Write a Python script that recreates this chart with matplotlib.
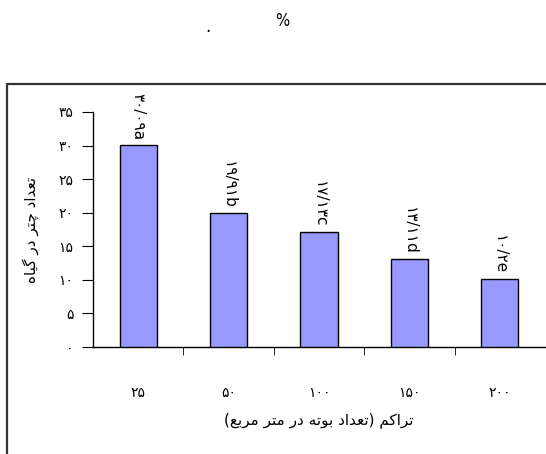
import matplotlib
matplotlib.use("Agg")
import matplotlib.pyplot as plt
from matplotlib.patches import Rectangle

plt.rcParams['font.family'] = ['DejaVu Sans']

# ---- data ----
categories = ["۲۵", "۵۰", "۱۰۰", "۱۵۰", "۲۰۰"]
values = [30.09, 19.91, 17.13, 13.11, 10.2]
value_labels = ["۳۰/۰۹a", "۱۹/۹۱b", "۱۷/۱۳c", "۱۳/۱۱d", "۱۰/۲e"]
yticks = [0, 5, 10, 15, 20, 25, 30, 35]
ytick_labels = ["۰", "۵", "۱۰", "۱۵", "۲۰", "۲۵", "۳۰", "۳۵"]
ylabel = "تعداد چتر در گیاه"
xlabel = "تراکم (تعداد بوته در متر مربع)"

# ---- minimal Persian shaping (presentation forms) ----
FORMS = {  # iso, fin, ini, med ; None ini/med => right-joining only
    'ت': ('\uFE95', '\uFE96', '\uFE97', '\uFE98'),
    'ع': ('\uFEC9', '\uFECA', '\uFECB', '\uFECC'),
    'د': ('\uFEA9', '\uFEAA', None, None),
    'ا': ('\uFE8D', '\uFE8E', None, None),
    'چ': ('\uFB7A', '\uFB7B', '\uFB7C', '\uFB7D'),
    'ر': ('\uFEAD', '\uFEAE', None, None),
    'گ': ('\uFB92', '\uFB93', '\uFB94', '\uFB95'),
    'ی': ('\uFBFC', '\uFBFD', '\uFBFE', '\uFBFF'),
    'ه': ('\uFEE9', '\uFEEA', '\uFEEB', '\uFEEC'),
    'ک': ('\uFB8E', '\uFB8F', '\uFB90', '\uFB91'),
    'م': ('\uFEE1', '\uFEE2', '\uFEE3', '\uFEE4'),
    'ب': ('\uFE8F', '\uFE90', '\uFE91', '\uFE92'),
    'و': ('\uFEED', '\uFEEE', None, None),
}

def shape(s):
    out = []
    n = len(s)
    for i, ch in enumerate(s):
        if ch not in FORMS:
            out.append(ch)
            continue
        f = FORMS[ch]
        prev = s[i - 1] if i > 0 else None
        nxt = s[i + 1] if i < n - 1 else None
        pj = prev in FORMS and FORMS[prev][2] is not None
        nj = nxt in FORMS and f[2] is not None
        if pj and nj:
            out.append(f[3])
        elif pj:
            out.append(f[1])
        elif nj:
            out.append(f[2])
        else:
            out.append(f[0])
    vis = ''.join(reversed(out))
    vis = vis.translate(str.maketrans({'(': ')', ')': '('}))
    return vis

W, H = 546, 454
fig = plt.figure(figsize=(W / 100, H / 100), dpi=100)
ax = fig.add_axes([93 / W, 1 - 347 / H, (545 - 93) / W, (347 - 112) / H])

x = list(range(len(categories)))
ax.bar(x, values, width=0.41, color='#9999FF', edgecolor='black', linewidth=1.0, zorder=3)
ax.set_xlim(-0.5, len(categories) - 0.5)
ax.set_ylim(0, 35)

for xi, v, lab in zip(x, values, value_labels):
    ax.text(xi, v + 0.7, lab, rotation=-90, ha='center', va='bottom', fontsize=11)

ax.set_yticks(yticks)
ax.set_yticklabels(ytick_labels, fontsize=10)
ax.set_xticks(x)
ax.set_xticklabels(categories, fontsize=10)
ax.set_xticks([i + 0.5 for i in x[:-1]], minor=True)
ax.tick_params(axis='x', which='major', length=0, pad=28)
ax.tick_params(axis='x', which='minor', length=6, direction='out')
ax.tick_params(axis='y', length=8, direction='out', pad=6)

for s in ['top', 'right']:
    ax.spines[s].set_visible(False)
ax.spines['left'].set_linewidth(1.0)
ax.spines['bottom'].set_linewidth(1.0)

ax.set_ylabel(shape(ylabel), fontsize=11, labelpad=14)
ax.set_xlabel(shape(xlabel), fontsize=11, labelpad=9)

# outer frame (clipped at right/bottom)
fig.add_artist(Rectangle((7 / W, -0.1), 1.2, 1 - 84 / H + 0.1, transform=fig.transFigure,
                         fill=False, edgecolor='#333333', linewidth=1.6))

# title remnants
fig.text(208 / W, 1 - 27 / H, ".", ha='center', va='center', fontsize=12)
fig.text(282 / W, 1 - 21 / H, "%", ha='center', va='center', fontsize=12, fontstretch='condensed')

fig.savefig("out.png", dpi=100)
